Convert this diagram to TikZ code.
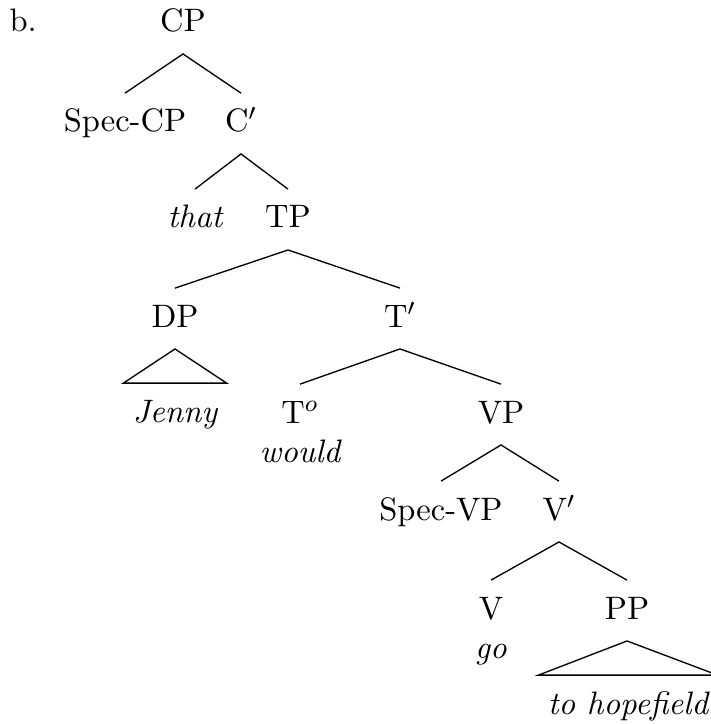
\documentclass[tikz,border=0pt]{standalone}
\usepackage{amsmath}
\usepackage{tikz}
\usetikzlibrary{positioning, calc}
\newcommand{\treefont}{\fontsize{10.95}{13.6}\selectfont}
\tikzset{
  cat/.style={inner sep=0pt, outer sep=0pt, text height=13.1pt,
    text depth=7.4pt, anchor=base, font=\treefont},
  word/.style={cat, font=\treefont\itshape},
  roofword/.style={word, inner xsep=3.2pt},
  branch/.style={line width=0.45pt, color=black},
  roof/.style={line width=0.45pt, color=black, line join=miter}
}

\begin{document}
\begin{tikzpicture}[x=0.337pt, y=-0.337pt]
  \useasboundingbox (0,0) rectangle (710,724);

  % Example label
  \node[anchor=base west, inner sep=0pt, font=\treefont] (lbl) at (9,32) {b.};

  % Clause level
  \node[cat] (CP) at (183,32) {CP};
  \node[cat] (SpecCP) at (125,132) {Spec-CP};
  \node[cat] (Cbar) at (241,132) {C$'$};
  \node[word] (that) at (195,228) {that};
  \node[cat] (TP) at (288,228) {TP};

  % Subject and T-bar
  \node[cat] (DP) at (175,327) {DP};
  \node[cat] (Tbar) at (400,327) {T$'$};
  \node[roofword] (Jenny) at (175,422) {Jenny};
  \node[cat] (To) at (300,423) {T$^o$};
  \node[word] (would) at (300,462) {would};
  \node[cat] (VP) at (501,423) {VP};

  % Verb phrase
  \node[cat] (SpecVP) at (441,520) {Spec-VP};
  \node[cat] (Vbar) at (559,520) {V$'$};
  \node[cat] (V) at (491,619) {V};
  \node[word] (go) at (491,658) {go};
  \node[cat] (PP) at (627,619) {PP};
  \node[roofword] (hope) at (628,714) {to hopefield};

  % Branches
  \draw[branch] (SpecCP.north) -- (CP.south) -- (Cbar.north);
  \draw[branch] (that.north) -- (Cbar.south) -- (TP.north);
  \draw[branch] (DP.north) -- (TP.south) -- (Tbar.north);
  \draw[branch] (To.north) -- (Tbar.south) -- (VP.north);
  \draw[branch] (SpecVP.north) -- (VP.south) -- (Vbar.north);
  \draw[branch] (V.north) -- (Vbar.south) -- (PP.north);

  % Roofs
  \draw[roof] (DP.south) -- (Jenny.north west) -- (Jenny.north east) -- cycle;
  \draw[roof] (PP.south) -- (hope.north west) -- (hope.north east) -- cycle;
\end{tikzpicture}
\end{document}
